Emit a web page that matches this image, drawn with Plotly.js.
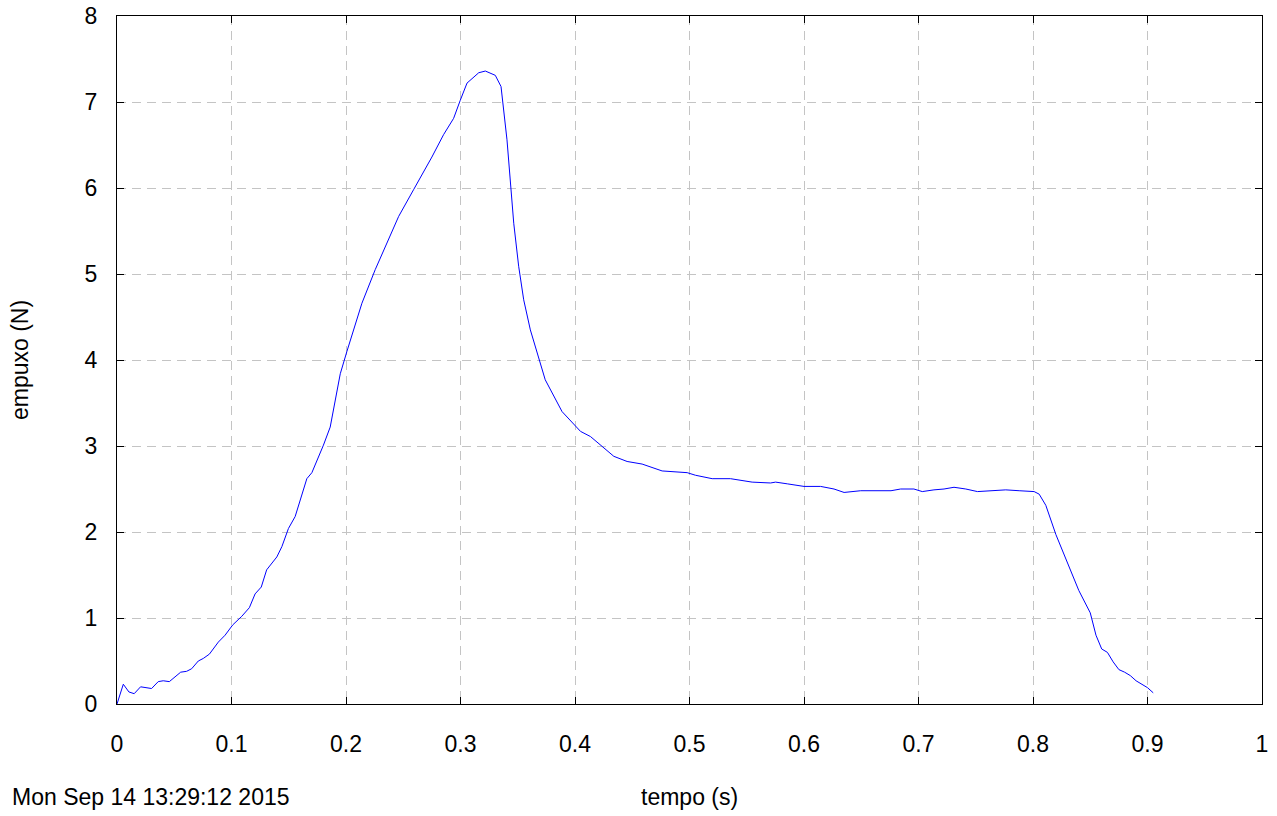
<!DOCTYPE html>
<html>
<head>
<meta charset="utf-8">
<script src="https://cdn.plot.ly/plotly-3.0.1.min.js"></script>
<style>html,body{margin:0;padding:0;background:#fff;}#chart{width:1277px;height:816px;}</style>
</head>
<body>
<div id="chart"></div>
<script>
// tempo (s)
var tempo = [0, 0.0055, 0.0104, 0.015, 0.0206, 0.0302, 0.036, 0.0404, 0.0457, 0.0556, 0.0608, 0.0652, 0.071, 0.0754, 0.0807, 0.0885, 0.0944, 0.1011, 0.109, 0.1156, 0.1206, 0.126, 0.1307, 0.1396, 0.144, 0.1497, 0.1556, 0.16, 0.1629, 0.1658, 0.1702, 0.1803, 0.1862, 0.195, 0.2008, 0.2139, 0.2255, 0.246, 0.259, 0.275, 0.2852, 0.294, 0.2998, 0.3057, 0.3159, 0.3217, 0.3304, 0.3354, 0.3406, 0.3465, 0.3508, 0.3552, 0.361, 0.3692, 0.374, 0.3887, 0.4048, 0.4135, 0.4339, 0.4455, 0.4586, 0.4761, 0.498, 0.5052, 0.5198, 0.5358, 0.546, 0.5547, 0.5708, 0.5752, 0.5854, 0.6, 0.6145, 0.6262, 0.635, 0.6495, 0.676, 0.6844, 0.696, 0.7033, 0.7135, 0.7223, 0.731, 0.7413, 0.7515, 0.7617, 0.7762, 0.7879, 0.801, 0.8054, 0.8112, 0.82, 0.833, 0.84, 0.85, 0.855, 0.86, 0.865, 0.87, 0.875, 0.88, 0.885, 0.89, 0.895, 0.9, 0.905];
// empuxo (N)
var empuxo = [0, 0.23, 0.14, 0.12, 0.20, 0.18, 0.26, 0.27, 0.26, 0.37, 0.38, 0.41, 0.50, 0.53, 0.58, 0.72, 0.80, 0.92, 1.02, 1.12, 1.28, 1.36, 1.56, 1.71, 1.83, 2.04, 2.18, 2.37, 2.51, 2.62, 2.69, 3.01, 3.22, 3.84, 4.10, 4.66, 5.05, 5.67, 5.98, 6.36, 6.62, 6.81, 7.02, 7.22, 7.34, 7.36, 7.31, 7.18, 6.56, 5.59, 5.09, 4.70, 4.35, 4.00, 3.77, 3.40, 3.17, 3.11, 2.88, 2.82, 2.79, 2.71, 2.69, 2.66, 2.62, 2.62, 2.60, 2.58, 2.57, 2.58, 2.56, 2.53, 2.53, 2.50, 2.46, 2.48, 2.48, 2.50, 2.50, 2.47, 2.49, 2.50, 2.52, 2.50, 2.47, 2.48, 2.49, 2.48, 2.47, 2.44, 2.31, 1.97, 1.56, 1.32, 1.06, 0.80, 0.64, 0.60, 0.49, 0.40, 0.37, 0.33, 0.27, 0.23, 0.19, 0.13];

var xTitle = "tempo (s)";
var yTitle = "empuxo (N)";
var dateLabel = "Mon Sep 14 13:29:12 2015";

var font = {family: "Liberation Sans, Arial, sans-serif", size: 23, color: "#000"};

var axisCommon = {
  showline: true, linecolor: "#000", linewidth: 1, mirror: "ticks",
  ticks: "inside", ticklen: 7, tickcolor: "#000", tickwidth: 1,
  showgrid: true, gridcolor: "#c4c4c4", gridwidth: 1, griddash: "9px,6px",
  zeroline: false, tickfont: font, fixedrange: true
};

var trace = {
  x: tempo, y: empuxo, type: "scatter", mode: "lines",
  line: {color: "#0000ff", width: 1}, hoverinfo: "skip", showlegend: false
};

var layout = {
  width: 1277, height: 816,
  margin: {l: 117, r: 15, t: 16, b: 112, pad: 0},
  paper_bgcolor: "#fff", plot_bgcolor: "#fff",
  font: font,
  xaxis: Object.assign({}, axisCommon, {range: [0, 1], dtick: 0.1, tick0: 0, ticklabelstandoff: 19}),
  yaxis: Object.assign({}, axisCommon, {range: [0, 8], dtick: 1, tick0: 0, ticklabelstandoff: 14}),
  annotations: [
    {text: xTitle, xref: "paper", yref: "paper", x: 0.5, y: 0, xanchor: "center", yanchor: "middle", yshift: -93, showarrow: false, font: font},
    {text: yTitle, xref: "paper", yref: "paper", x: -0.0847, y: 0.5, xanchor: "center", yanchor: "middle", textangle: -90, showarrow: false, font: font},
    {text: dateLabel, xref: "paper", yref: "paper", x: -0.0934, y: 0, xanchor: "left", yanchor: "middle", yshift: -93, showarrow: false, font: font}
  ]
};

Plotly.newPlot("chart", [trace], layout, {displayModeBar: false, staticPlot: true});
</script>
</body>
</html>
